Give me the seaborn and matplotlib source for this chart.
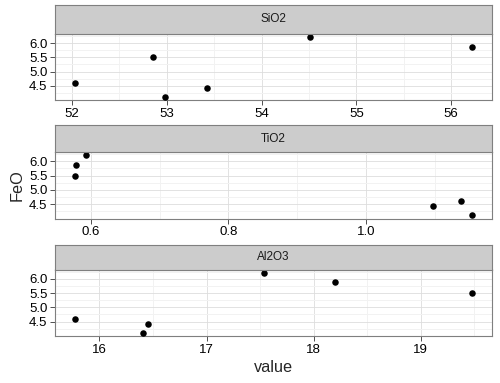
import numpy as np
import pandas as pd
import matplotlib
matplotlib.use("Agg")
import matplotlib.pyplot as plt
import seaborn as sns

# datos
feo = [4.60, 5.50, 4.10, 4.43, 6.22, 5.88]
sio2 = [52.03, 52.85, 52.98, 53.42, 54.51, 56.22]
tio2 = [1.138, 0.577, 1.154, 1.097, 0.593, 0.579]
al2o3 = [15.77, 19.48, 16.41, 16.45, 17.54, 18.20]
facetas = ["SiO2", "TiO2", "Al2O3"]
x_ticks = {"SiO2": [52, 53, 54, 55, 56], "TiO2": [0.6, 0.8, 1.0], "Al2O3": [16, 17, 18, 19]}
y_ticks = [4.5, 5.0, 5.5, 6.0]

df = pd.DataFrame({"FeO": feo, "SiO2": sio2, "TiO2": tio2, "Al2O3": al2o3})
largo = df.melt(id_vars="FeO", var_name="variable", value_name="value")

sns.set_style("white")
plt.rcParams["font.family"] = ["Liberation Sans", "DejaVu Sans"]

W, H = 500, 383
fig = plt.figure(figsize=(W / 100, H / 100), dpi=100)

# (strip top, panel top, panel bottom) en pixeles
filas = [(5, 34, 100), (125, 152, 218.5), (244.5, 269.5, 336)]
x0, x1 = 55, 492

def fmt(v):
    return f"{v:g}" if v >= 10 else f"{v:.1f}"

for nombre, (st, pt, pb) in zip(facetas, filas):
    ax = fig.add_axes([x0 / W, 1 - pb / H, (x1 - x0) / W, (pb - pt) / H])
    sub = largo[largo["variable"] == nombre]
    sns.scatterplot(data=sub, x="value", y="FeO", ax=ax, color="black",
                    s=22, linewidth=0, zorder=3)

    xt = x_ticks[nombre]
    paso = xt[1] - xt[0]
    ax.set_xticks(xt)
    ax.set_xticklabels([fmt(v) for v in xt])
    ax.set_xticks(np.arange(xt[0] - paso / 2, xt[-1] + paso, paso), minor=True)
    ax.set_yticks(y_ticks)
    ax.set_yticklabels([f"{v:.1f}" for v in y_ticks])
    ax.set_yticks(np.arange(4.25, 6.5, 0.5), minor=True)

    # limites despues de los ticks (set_xticks expande la vista)
    xs = sub["value"]
    r = xs.max() - xs.min()
    ax.set_xlim(xs.min() - 0.05 * r, xs.max() + 0.05 * r)
    ry = max(feo) - min(feo)
    ax.set_ylim(min(feo) - 0.05 * ry, max(feo) + 0.05 * ry)

    ax.grid(which="major", color="#DDDDDD", linewidth=0.6)
    ax.grid(which="minor", color="#F2F2F2", linewidth=0.7)
    ax.set_axisbelow(True)
    ax.tick_params(which="major", direction="out", length=3.5, width=0.6,
                   color="#333333", labelsize=9.5, labelcolor="black", pad=2,
                   bottom=True, left=True)
    ax.tick_params(which="minor", length=0)
    for sp in ax.spines.values():
        sp.set_color("#7F7F7F")
        sp.set_linewidth(0.8)
    ax.set_xlabel("")
    ax.set_ylabel("")

    # tira con el titulo de la faceta
    sa = fig.add_axes([x0 / W, 1 - pt / H, (x1 - x0) / W, (pt - st) / H])
    sa.set_facecolor("#CCCCCC")
    sa.set_xticks([])
    sa.set_yticks([])
    for sp in sa.spines.values():
        sp.set_color("#7F7F7F")
        sp.set_linewidth(0.8)
    sa.text(0.5, 0.5, nombre, ha="center", va="center", fontsize=8.5,
            color="#1A1A1A", transform=sa.transAxes)

fig.text((x0 + x1) / 2 / W, 1 - 368 / H, "value", ha="center", va="center", fontsize=11.7)
fig.text(17 / W, 1 - 185 / H, "FeO", ha="center", va="center", rotation=90, fontsize=11.7)

plt.savefig("out.png", dpi=100)
plt.close()
